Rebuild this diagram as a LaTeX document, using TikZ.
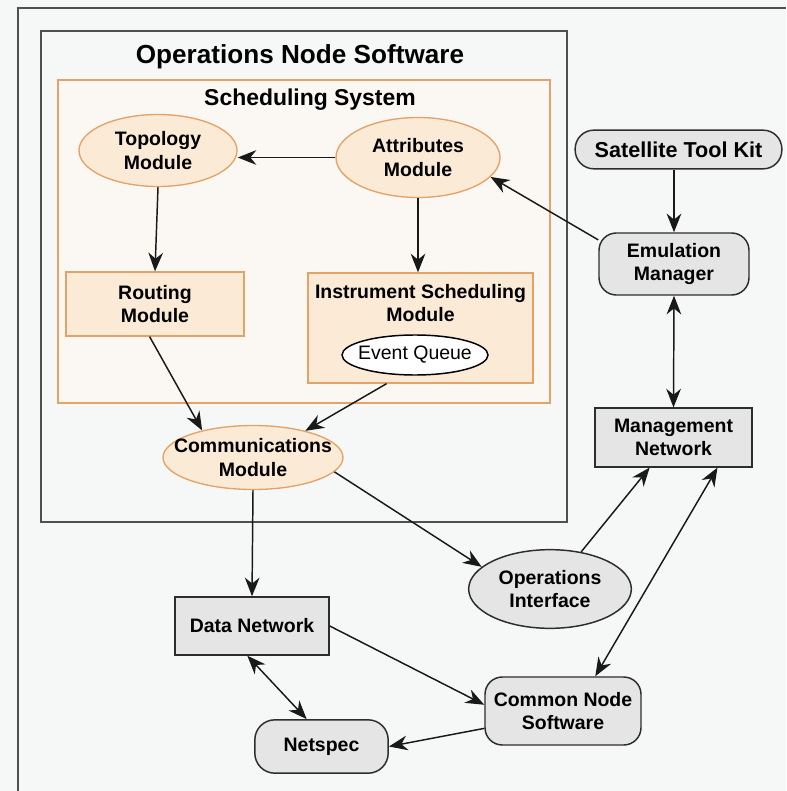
\documentclass[tikz,border=0pt]{standalone}
\usepackage{fontspec}
\setmainfont{Liberation Sans}
\usepackage{xcolor}
\usetikzlibrary{arrows.meta,calc,shapes.geometric}
\definecolor{bgcol}{RGB}{246,248,248}
\definecolor{orangeline}{RGB}{228,162,102}
\definecolor{modfill}{RGB}{250,234,214}
\definecolor{schedfill}{RGB}{251,247,243}
\definecolor{grayfill}{RGB}{229,229,229}
\definecolor{edgecol}{RGB}{45,45,45}
\definecolor{framecol}{RGB}{80,80,80}

\begin{document}
\begin{tikzpicture}[x=0.75pt,y=-0.75pt,>={Stealth[length=14pt,width=11pt,inset=4.5pt]},
  font=\fontsize{14.6}{17.5}\selectfont\bfseries,
  mod/.style={ellipse,draw=orangeline,line width=1pt,fill=modfill,align=center,inner sep=0pt},
  modbox/.style={draw=orangeline,line width=1pt,fill=modfill,align=center,inner sep=0pt},
  ext/.style={draw=edgecol,line width=1.1pt,fill=grayfill,rounded corners=13pt,align=center,inner sep=0pt},
  net/.style={draw=edgecol,line width=1.1pt,fill=grayfill,align=center,inner sep=0pt},
  extell/.style={ellipse,draw=edgecol,line width=1.1pt,fill=grayfill,align=center,inner sep=0pt},
  link/.style={->,line width=1.1pt,draw=black!90},
  dlink/.style={<->,line width=1.1pt,draw=black!90}]
\fill[bgcol] (0,0) rectangle (786,791);
\useasboundingbox (0,0) rectangle (786,791);
\draw[framecol,line width=1.5pt] (786,8) -| (18,791);
\node[draw=framecol,line width=1.9pt,minimum width=394.5pt,minimum height=368.25pt] (ons) at (304,276.5) {};
\node[font=\fontsize{19.6}{23}\selectfont\bfseries] (onstitle) at (300,57) {Operations Node Software};
\node[draw=orangeline,fill=schedfill,line width=1pt,minimum width=369pt,minimum height=242.25pt] (sched) at (304,241.5) {};
\node[font=\fontsize{17.2}{20}\selectfont\bfseries] (schedtitle) at (310,100) {Scheduling System};
\node[mod,minimum width=118.5pt,minimum height=54pt] (topo) at (158,150.5) {Topology\\Module};
\node[mod,minimum width=123pt,minimum height=60pt] (attr) at (418,157.5) {Attributes\\Module};
\node[modbox,minimum width=133.5pt,minimum height=48pt] (route) at (155,304) {Routing\\Module};
\node[modbox,minimum width=168.75pt,minimum height=82.5pt] (instr) at (420.5,328) {};
\node[align=center,inner sep=0pt] (instrlab) at (420.5,303) {Instrument Scheduling\\Module};
\node[ellipse,draw=black,fill=white,line width=1.1pt,inner xsep=-4.5pt,inner ysep=0pt,minimum width=109.5pt,minimum height=30pt,font=\fontsize{14.6}{17.5}\selectfont\mdseries] (evq) at (415,355) {Event Queue};
\node[mod,inner xsep=-13pt,minimum width=135pt,minimum height=48pt] (comm) at (253,457.5) {Communications\\Module};
\node[net,minimum width=115.5pt,minimum height=43.5pt] (data) at (252,626) {Data Network};
\node[extell,minimum width=122pt,minimum height=59pt] (opsi) at (550,589) {Operations\\Interface};
\node[ext,minimum width=117pt,minimum height=51pt] (cns) at (563,711) {Common Node\\Software};
\node[ext,rounded corners=15pt,minimum width=100pt,minimum height=40pt] (netspec) at (321.5,746.5) {Netspec};
\node[ext,rounded corners=14pt,minimum width=155pt,minimum height=29pt,font=\fontsize{16.2}{19}\selectfont\bfseries] (stk) at (678.5,149.5) {Satellite Tool Kit};
\node[ext,minimum width=112.5pt,minimum height=46.5pt] (emu) at (674,264) {Emulation\\Manager};
\node[net,minimum width=118pt,minimum height=44pt] (mgmt) at (673.5,437.5) {Management\\Network};
\draw[link] (attr.west) -- (attr.west -| topo.east);
\draw[link] (topo.south) -- (route.north);
\draw[link] (attr.south) -- (attr.south |- instr.north);
\draw[link] ($(route.south west)!0.47!(route.south east)$) -- (comm.152);
\draw[link] ($(instr.south west)!0.35!(instr.south east)$) -- (comm.27);
\draw[link] (comm.south) -- (data.north);
\draw[link] (comm.350) -- (opsi.162);
\draw[link] ($(emu.north west)!0.12!(emu.south west)$) -- (attr.345);
\draw[link] (stk.south -| emu.north) -- (emu.north);
\draw[dlink] (emu.south) -- (mgmt.north);
\draw[link] (opsi.50) -- ($(mgmt.south west)!0.35!(mgmt.south east)$);
\draw[dlink] ($(cns.north west)!0.705!(cns.north east)$) -- ($(mgmt.south west)!0.777!(mgmt.south east)$);
\draw[link] (data.east) -- ($(cns.north west)!0.41!(cns.south west)$);
\draw[link] ($(cns.north west)!0.75!(cns.south west)$) -- (netspec.east);
\draw[dlink] ($(data.south west)!0.47!(data.south east)$) -- ($(netspec.north west)!0.39!(netspec.north east)$);
\end{tikzpicture}
\end{document}
